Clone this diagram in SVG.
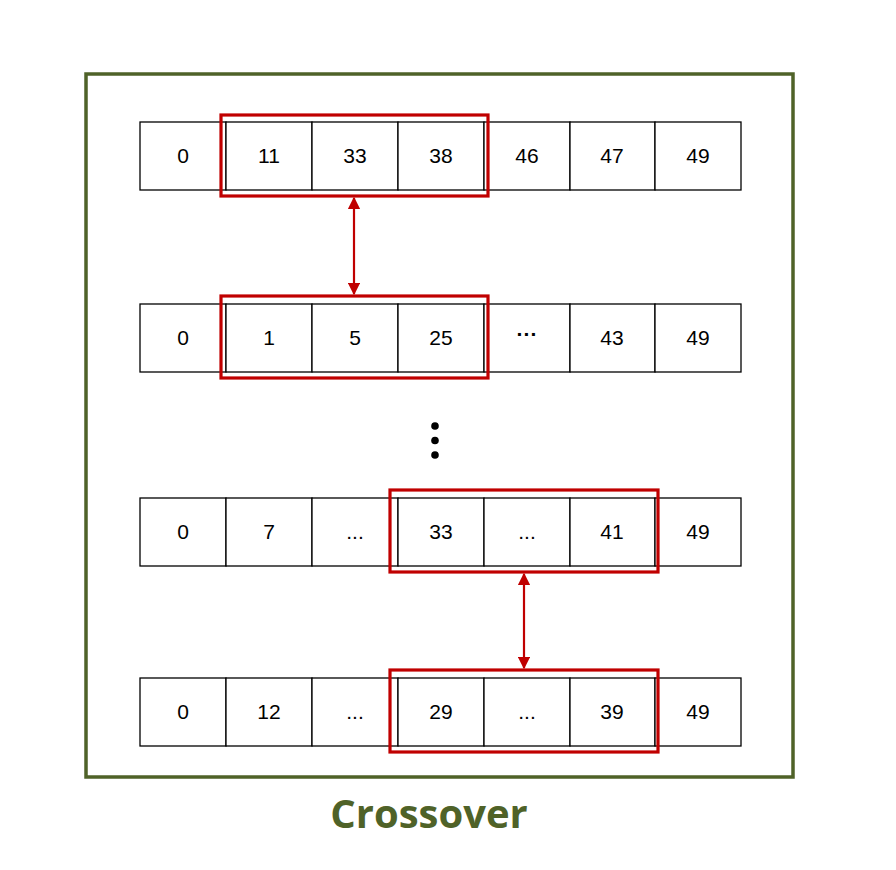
<svg xmlns="http://www.w3.org/2000/svg" width="896" height="870" viewBox="0 0 896 870">
<defs>
<style>
.cell{fill:#fff;stroke:#000;stroke-width:1.3}
.sel{fill:none;stroke:#c00000;stroke-width:3.2}
.t{font-family:"Liberation Sans",Arial,sans-serif;font-size:21px;fill:#000;text-anchor:middle}
.ar{stroke:#c00000;stroke-width:2.2;fill:none}
</style>
<marker id="ah" viewBox="0 0 10 10" refX="9" refY="5" markerWidth="5.5" markerHeight="5.5" orient="auto-start-reverse"><path d="M0,0 L10,5 L0,10 z" fill="#c00000"/></marker>
</defs>
<rect width="896" height="870" fill="#fff"/>
<rect id="frame" x="86" y="74" width="707" height="703" fill="none" stroke="#4f6228" stroke-width="3.5"/>
<g id="row1">
<rect class="cell" x="140" y="122" width="86" height="68"/><rect class="cell" x="226" y="122" width="86" height="68"/><rect class="cell" x="312" y="122" width="86" height="68"/><rect class="cell" x="398" y="122" width="86" height="68"/><rect class="cell" x="484" y="122" width="86" height="68"/><rect class="cell" x="570" y="122" width="85" height="68"/><rect class="cell" x="655" y="122" width="86" height="68"/>
<text class="t" x="183" y="163">0</text><text class="t" x="269" y="163">11</text><text class="t" x="355" y="163">33</text><text class="t" x="441" y="163">38</text><text class="t" x="527" y="163">46</text><text class="t" x="612" y="163">47</text><text class="t" x="698" y="163">49</text>
<rect class="sel" x="221" y="115" width="267" height="81"/>
</g>
<g id="row2">
<rect class="cell" x="140" y="304" width="86" height="68"/><rect class="cell" x="226" y="304" width="86" height="68"/><rect class="cell" x="312" y="304" width="86" height="68"/><rect class="cell" x="398" y="304" width="86" height="68"/><rect class="cell" x="484" y="304" width="86" height="68"/><rect class="cell" x="570" y="304" width="85" height="68"/><rect class="cell" x="655" y="304" width="86" height="68"/>
<text class="t" x="183" y="345">0</text><text class="t" x="269" y="345">1</text><text class="t" x="355" y="345">5</text><text class="t" x="441" y="345">25</text><text class="t" x="527" y="341" font-size="26" font-weight="bold">···</text><text class="t" x="612" y="345">43</text><text class="t" x="698" y="345">49</text>
<rect class="sel" x="221" y="296" width="267" height="82"/>
</g>
<g id="dots" fill="#000"><circle cx="435" cy="426" r="3.8"/><circle cx="435" cy="440.5" r="3.8"/><circle cx="435" cy="455" r="3.8"/></g>
<g id="row3">
<rect class="cell" x="140" y="498" width="86" height="68"/><rect class="cell" x="226" y="498" width="86" height="68"/><rect class="cell" x="312" y="498" width="86" height="68"/><rect class="cell" x="398" y="498" width="86" height="68"/><rect class="cell" x="484" y="498" width="86" height="68"/><rect class="cell" x="570" y="498" width="85" height="68"/><rect class="cell" x="655" y="498" width="86" height="68"/>
<text class="t" x="183" y="539">0</text><text class="t" x="269" y="539">7</text><text class="t" x="355" y="539">...</text><text class="t" x="441" y="539">33</text><text class="t" x="527" y="539">...</text><text class="t" x="612" y="539">41</text><text class="t" x="698" y="539">49</text>
<rect class="sel" x="390" y="490" width="268" height="82"/>
</g>
<g id="row4">
<rect class="cell" x="140" y="678" width="86" height="68"/><rect class="cell" x="226" y="678" width="86" height="68"/><rect class="cell" x="312" y="678" width="86" height="68"/><rect class="cell" x="398" y="678" width="86" height="68"/><rect class="cell" x="484" y="678" width="86" height="68"/><rect class="cell" x="570" y="678" width="85" height="68"/><rect class="cell" x="655" y="678" width="86" height="68"/>
<text class="t" x="183" y="719">0</text><text class="t" x="269" y="719">12</text><text class="t" x="355" y="719">...</text><text class="t" x="441" y="719">29</text><text class="t" x="527" y="719">...</text><text class="t" x="612" y="719">39</text><text class="t" x="698" y="719">49</text>
<rect class="sel" x="390" y="670" width="268" height="82"/>
</g>
<g id="connectors">
<line class="ar" x1="354" y1="198" x2="354" y2="294" marker-start="url(#ah)" marker-end="url(#ah)"/>
<line class="ar" x1="524" y1="574" x2="524" y2="668" marker-start="url(#ah)" marker-end="url(#ah)"/>
</g>
<text id="title" x="429" y="828" font-family="'Open Sans','Noto Sans',sans-serif" font-weight="bold" font-size="40" fill="#4f6228" text-anchor="middle">Crossover</text>
</svg>
